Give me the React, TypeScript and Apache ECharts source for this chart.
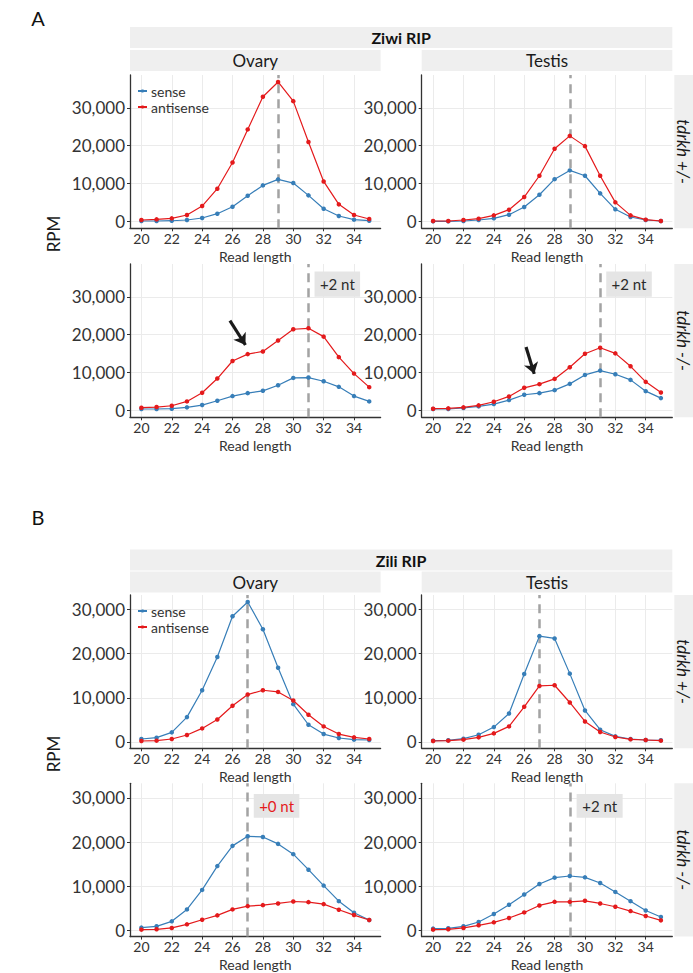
import React, { useEffect, useRef } from "react";
import * as echarts from "echarts";

// Read lengths (nt) on the x axis
const readLengths = [20, 21, 22, 23, 24, 25, 26, 27, 28, 29, 30, 31, 32, 33, 34, 35];
const xTicks = [20, 22, 24, 26, 28, 30, 32, 34];
const yTicks = [0, 10000, 20000, 30000];

// Ziwi RIP — tdrkh +/-
const ziwiOvaryHetSense = [180, 180, 250, 440, 960, 2100, 3950, 6840, 9560, 11140, 10170, 6930, 3420, 1490, 530, 260];
const ziwiOvaryHetAnti = [440, 600, 880, 1750, 4120, 8680, 15600, 24300, 32900, 36800, 31750, 21000, 10600, 4560, 1750, 700];
const ziwiTestisHetSense = [90, 90, 180, 440, 880, 1840, 3860, 7100, 11200, 13500, 12100, 7450, 3250, 1230, 440, 180];
const ziwiTestisHetAnti = [180, 180, 440, 790, 1670, 3160, 6490, 12100, 19200, 22600, 19900, 12100, 5090, 1670, 530, 180];
// Ziwi RIP — tdrkh -/-
const ziwiOvaryMutSense = [440, 440, 520, 870, 1480, 2620, 3840, 4620, 5230, 6710, 8630, 8720, 7760, 6280, 3840, 2440];
const ziwiOvaryMutAnti = [780, 960, 1300, 2440, 4710, 8460, 13080, 14900, 15600, 18500, 21450, 21700, 19500, 14100, 9770, 6190];
const ziwiTestisMutSense = [440, 440, 700, 1130, 1740, 2790, 4190, 4620, 5410, 7060, 9420, 10550, 9590, 8110, 5140, 3310];
const ziwiTestisMutAnti = [520, 610, 870, 1400, 2350, 3750, 6020, 6980, 8370, 11420, 15000, 16570, 15090, 11690, 7590, 4800];

// Zili RIP — tdrkh +/-
const ziliOvaryHetSense = [680, 980, 2180, 5640, 11730, 19250, 28500, 31730, 25560, 16840, 8570, 3910, 1800, 900, 530, 450];
const ziliOvaryHetAnti = [230, 300, 680, 1580, 3080, 5110, 8200, 10750, 11730, 11350, 9400, 6170, 3530, 1800, 1050, 680];
const ziliTestisHetSense = [300, 380, 750, 1650, 3380, 6470, 15410, 23990, 23460, 15490, 7140, 2780, 1280, 680, 450, 380];
const ziliTestisHetAnti = [230, 300, 530, 1050, 1950, 3530, 7970, 12710, 12860, 8950, 4660, 2260, 1130, 600, 450, 300];
// Zili RIP — tdrkh -/-
const ziliOvaryMutSense = [600, 900, 2030, 4730, 9150, 14550, 19130, 21300, 21150, 19580, 17250, 13730, 10130, 6600, 3980, 2330];
const ziliOvaryMutAnti = [150, 230, 530, 1350, 2400, 3380, 4730, 5480, 5700, 6080, 6530, 6380, 5930, 4650, 3450, 2330];
const ziliTestisMutSense = [380, 450, 900, 1880, 3680, 5780, 8100, 10500, 11930, 12300, 12000, 10730, 8700, 6600, 4500, 3000];
const ziliTestisMutAnti = [150, 230, 530, 1130, 1800, 2780, 4050, 5630, 6450, 6450, 6680, 6080, 5330, 4350, 3230, 2250];

// Modal read length marked with a dashed line: [row][column]
const ziwiPeaks = [[29, 29], [31, 31]];
const ziliPeaks = [[27, 27], [27, 29]];

// Shift labels in the mutant row: [column] => text
const ziwiShiftLabels = ["+2 nt", "+2 nt"];
const ziliShiftLabels = ["+0 nt", "+2 nt"];

const columns = ["Ovary", "Testis"];
const rows = ["tdrkh +/-", "tdrkh -/-"];
const legendNames = ["sense", "antisense"];

const SENSE = "#377eb8";
const ANTI = "#e41a1c";
const FONT = 'Lato, "Noto Sans", sans-serif';
const INK = "#2b2b2b";

type Fig = {
  letter: string;
  title: string;
  data: number[][][]; // [panel][sense, anti]
  peaks: number[][];
  shifts: string[];
  shiftColors: string[];
  shiftBox: number[][]; // [column] => [x0, x1, y0, y1] in data units
  arrows: number[][] | null; // [column] => [x0, y0, x1, y1]
  letterY: number;
  titleY: number;
  colY: number;
  rowTops: number[];
  rpmY: number;
};

const figs: Fig[] = [
  {
    letter: "A",
    title: "Ziwi RIP",
    data: [
      [ziwiOvaryHetSense, ziwiOvaryHetAnti],
      [ziwiTestisHetSense, ziwiTestisHetAnti],
      [ziwiOvaryMutSense, ziwiOvaryMutAnti],
      [ziwiTestisMutSense, ziwiTestisMutAnti],
    ],
    peaks: ziwiPeaks,
    shifts: ziwiShiftLabels,
    shiftColors: [INK, INK],
    shiftBox: [
      [31.4, 34.4, 30000, 36650],
      [31.4, 34.4, 30000, 36650],
    ],
    arrows: [
      [25.83, 23740, 26.85, 17300],
      [26.12, 16750, 26.66, 9700],
    ],
    letterY: 18,
    titleY: 27,
    colY: 50,
    rowTops: [75, 264],
    rpmY: 234,
  },
  {
    letter: "B",
    title: "Zili RIP",
    data: [
      [ziliOvaryHetSense, ziliOvaryHetAnti],
      [ziliTestisHetSense, ziliTestisHetAnti],
      [ziliOvaryMutSense, ziliOvaryMutAnti],
      [ziliTestisMutSense, ziliTestisMutAnti],
    ],
    peaks: ziliPeaks,
    shifts: ziliShiftLabels,
    shiftColors: [ANTI, INK],
    shiftBox: [
      [27.4, 30.4, 25500, 30900],
      [29.45, 32.48, 25500, 30900],
    ],
    arrows: null,
    letterY: 517,
    titleY: 549.5,
    colY: 571.5,
    rowTops: [595, 783.3],
    rpmY: 754,
  },
];

const colLeft = [130, 421.7];
const plotW = 250.6;
const plotH = 153.3;
const stripFill = "#efefef";

function buildOption() {
  const grid: any[] = [];
  const xAxis: any[] = [];
  const yAxis: any[] = [];
  const series: any[] = [];
  const graphic: any[] = [];
  const legend: any[] = [];

  const xMin = Math.min(...readLengths);
  const xMax = Math.max(...readLengths);
  const xPad = (xMax - xMin) * 0.05;

  figs.forEach((fig) => {
    const all = fig.data.flat(2);
    const yLo = Math.min(...all);
    const yHi = Math.max(...all);
    const yPad = (yHi - yLo) * 0.05;

    // panel letter
    graphic.push({
      type: "text",
      x: 38,
      y: fig.letterY,
      style: { text: fig.letter, fill: "#111", fontSize: 20, fontFamily: FONT, align: "center", verticalAlign: "middle" },
    });
    // RIP title strip
    graphic.push({
      type: "rect",
      shape: { x: colLeft[0], y: fig.titleY, width: colLeft[1] + plotW - colLeft[0], height: 21 },
      style: { fill: stripFill },
      z: 0,
    });
    graphic.push({
      type: "text",
      x: (colLeft[0] + colLeft[1] + plotW) / 2,
      y: fig.titleY + 10.5,
      style: { text: fig.title, fill: "#111", fontSize: 16, fontWeight: "bold", fontFamily: FONT, align: "center", verticalAlign: "middle" },
    });
    // column strips
    columns.forEach((c, ci) => {
      graphic.push({
        type: "rect",
        shape: { x: colLeft[ci], y: fig.colY, width: plotW, height: 21 },
        style: { fill: stripFill },
        z: 0,
      });
      graphic.push({
        type: "text",
        x: colLeft[ci] + plotW / 2,
        y: fig.colY + 10.5,
        style: { text: c, fill: "#1a1a1a", fontSize: 17, fontFamily: FONT, align: "center", verticalAlign: "middle" },
      });
    });
    // row strips
    rows.forEach((r, ri) => {
      graphic.push({
        type: "rect",
        shape: { x: colLeft[1] + plotW + 2, y: fig.rowTops[ri], width: 30, height: plotH },
        style: { fill: stripFill },
        z: 0,
      });
      graphic.push({
        type: "text",
        x: 683,
        y: fig.rowTops[ri] + plotH / 2,
        rotation: -Math.PI / 2,
        style: { text: r, fill: "#1a1a1a", fontSize: 17, fontStyle: "italic", fontFamily: FONT, align: "center", verticalAlign: "middle" },
      });
    });
    // y axis title
    graphic.push({
      type: "text",
      x: 53,
      y: fig.rpmY,
      rotation: Math.PI / 2,
      style: { text: "RPM", fill: "#1a1a1a", fontSize: 17, fontFamily: FONT, align: "center", verticalAlign: "middle" },
    });

    legend.push({
      left: 137,
      top: fig.rowTops[0] + 9,
      orient: "vertical",
      padding: 0,
      itemGap: 2,
      itemWidth: 9,
      itemHeight: 4,
      data: legendNames,
      textStyle: { fontSize: 14, color: "#333", fontFamily: FONT, lineHeight: 12, padding: [0, 0, 0, -1] },
    });

    for (let p = 0; p < 4; p++) {
      const ri = Math.floor(p / 2);
      const ci = p % 2;
      const g = grid.length;
      grid.push({ left: colLeft[ci], top: fig.rowTops[ri], width: plotW, height: plotH });
      xAxis.push({
        type: "value",
        gridIndex: g,
        min: xMin - xPad,
        max: xMax + xPad,
        name: "Read length",
        nameLocation: "middle",
        nameGap: 21,
        nameTextStyle: { fontSize: 14, color: "#333", fontFamily: FONT },
        axisLine: { show: true, onZero: false, lineStyle: { color: "#333", width: 1.3 } },
        axisTick: { show: true, length: 3, customValues: xTicks, lineStyle: { color: "#333", width: 1 } },
        axisLabel: { customValues: xTicks, fontSize: 14, color: "#333", margin: 3, fontFamily: FONT },
        splitLine: { show: false },
      });
      yAxis.push({
        type: "value",
        gridIndex: g,
        min: yLo - yPad,
        max: yHi + yPad,
        axisLine: { show: true, lineStyle: { color: "#333", width: 1.3 } },
        axisTick: { show: true, length: 3, customValues: yTicks, lineStyle: { color: "#333", width: 1 } },
        axisLabel: {
          customValues: yTicks,
          fontSize: 17,
          color: "#333",
          margin: 5,
          fontFamily: FONT,
          formatter: (v: number) => Math.round(v).toLocaleString("en-US"),
        },
        splitLine: { show: false },
      });

      const [sense, anti] = fig.data[p];
      const pts = (arr: number[]) => readLengths.map((x, i) => [x, arr[i]]);

      // background grid lines
      series.push({
        type: "line",
        name: "grid",
        xAxisIndex: g,
        yAxisIndex: g,
        data: pts(sense),
        showSymbol: false,
        lineStyle: { opacity: 0 },
        silent: true,
        z: 0,
        markLine: {
          silent: true,
          z: 0,
          symbol: ["none", "none"],
          label: { show: false },
          lineStyle: { color: "#ebebeb", width: 1, type: "solid" },
          data: [...xTicks.map((v) => ({ xAxis: v })), ...yTicks.map((v) => ({ yAxis: v }))],
        },
      });
      // modal length marker + shift label
      const helper: any = {
        type: "line",
        name: "marker",
        xAxisIndex: g,
        yAxisIndex: g,
        data: pts(sense),
        showSymbol: false,
        lineStyle: { opacity: 0 },
        silent: true,
        z: 1,
        markLine: {
          silent: true,
          z: 1,
          symbol: ["none", "none"],
          label: { show: false },
          lineStyle: { color: "#a3a3a3", width: 2.5, type: [9, 6] },
          data: [{ xAxis: fig.peaks[ri][ci] }],
        },
      };
      if (ri === 1) {
        const b = fig.shiftBox[ci];
        helper.markArea = {
          silent: true,
          z: 1,
          itemStyle: { color: "#e5e5e5" },
          label: {
            show: true,
            position: "inside",
            formatter: fig.shifts[ci],
            color: fig.shiftColors[ci],
            fontSize: 15,
            fontFamily: FONT,
          },
          data: [[{ coord: [b[0], b[2]] }, { coord: [b[1], b[3]] }]],
        };
      }
      series.push(helper);

      series.push({
        type: "line",
        name: "sense",
        xAxisIndex: g,
        yAxisIndex: g,
        data: pts(sense),
        symbol: "circle",
        symbolSize: 4.5,
        lineStyle: { color: SENSE, width: 1.2 },
        itemStyle: { color: SENSE },
        z: 2,
      });
      series.push({
        type: "line",
        name: "antisense",
        xAxisIndex: g,
        yAxisIndex: g,
        data: pts(anti),
        symbol: "circle",
        symbolSize: 4.5,
        lineStyle: { color: ANTI, width: 1.2 },
        itemStyle: { color: ANTI },
        z: 3,
      });
      // arrow pointing at the shoulder of the antisense curve
      if (ri === 1 && fig.arrows) {
        const a = fig.arrows[ci];
        series.push({
          type: "line",
          name: "arrow",
          xAxisIndex: g,
          yAxisIndex: g,
          data: pts(anti),
          showSymbol: false,
          lineStyle: { opacity: 0 },
          silent: true,
          z: 4,
          markLine: {
            silent: true,
            z: 5,
            symbol: ["none", "arrow"],
            symbolSize: 11,
            label: { show: false },
            itemStyle: { color: "#1a1a1a" },
            lineStyle: { color: "#1a1a1a", width: 3.2, type: "solid", opacity: 1 },
            emphasis: { disabled: true },
            data: [[{ coord: [a[0], a[1]] }, { coord: [a[2], a[3]] }]],
          },
        });
      }
    }
  });

  return {
    animation: false,
    backgroundColor: "#ffffff",
    textStyle: { fontFamily: FONT },
    legend,
    grid,
    xAxis,
    yAxis,
    series,
    graphic,
  };
}

export default function App() {
  const ref = useRef<HTMLDivElement>(null);
  useEffect(() => {
    if (!ref.current) return;
    const chart = echarts.init(ref.current, undefined, { renderer: "svg" });
    chart.setOption(buildOption() as any);
    return () => chart.dispose();
  }, []);
  return (
    <div
      ref={ref}
      style={{ position: "absolute", left: 0, top: 0, width: 693, height: 973, background: "#fff" }}
    />
  );
}
